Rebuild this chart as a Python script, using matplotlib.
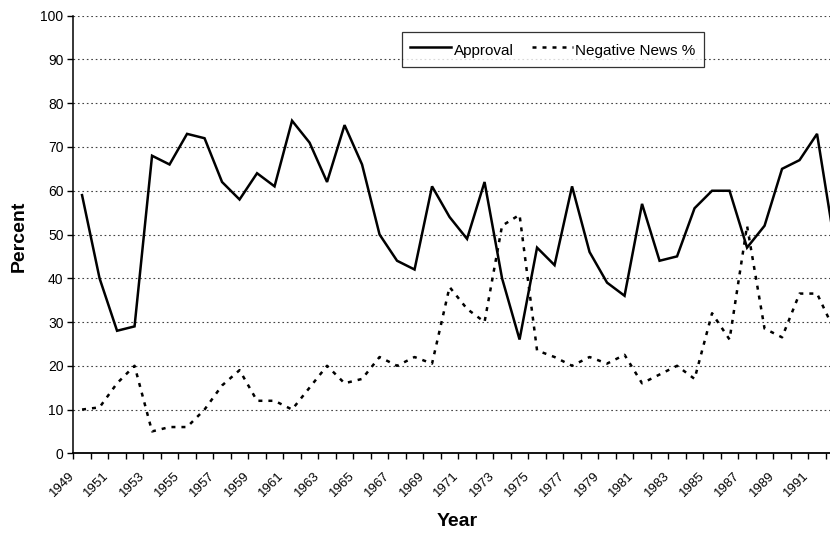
import numpy as np
import matplotlib
matplotlib.use('Agg')
import matplotlib.pyplot as plt
import matplotlib.transforms as mtransforms
from matplotlib.ticker import FixedLocator, NullFormatter

plt.rcParams['font.family'] = ['Liberation Sans', 'DejaVu Sans']

# data, one value per year 1949-1992
years = np.arange(1949, 1993)
approval = [59, 40, 28, 29, 68, 66, 73, 72, 62, 58,
            64, 61, 76, 71, 62, 75, 66, 50, 44, 42,
            61, 54, 49, 62, 40, 26, 47, 43, 61, 46,
            39, 36, 57, 44, 45, 56, 60, 60, 47, 52,
            65, 67, 73, 48]
negative_news = [10, 10.5, 16, 20, 5, 6, 6, 10, 15.5, 19,
                 12, 12, 10, 15, 20, 16, 17, 22, 20, 22,
                 20.5, 38, 33, 30, 52, 54.5, 23.5, 22, 20, 22,
                 20.5, 22.5, 16, 18, 20, 17, 32, 26, 52, 28.5,
                 26.5, 36.5, 36.5, 28]
tick_years = np.arange(1949, 1992, 2)

W, H = 830, 534
fig = plt.figure(figsize=(W / 100, H / 100), dpi=100)
left, bottom, top = 73.3, 453.3, 15.7
ax = fig.add_axes([left / W, 1 - bottom / H, 1 - left / W, (bottom - top) / H])

ax.plot(years, approval, color='black', lw=1.8, label='Approval', solid_joinstyle='miter')
ax.plot(years, negative_news, color='black', lw=1.8, linestyle=(0, (1.6, 2.4)),
        label='Negative News %')

px_per_year = 17.5
ax.set_xlim(1948.5, 1948.5 + (W - left) / px_per_year)
ax.set_ylim(0, 100)
ax.set_yticks(np.arange(0, 101, 10))

ax.yaxis.grid(True, color='#444444', linestyle=(0, (1.5, 2.5)), lw=0.8)
ax.set_axisbelow(True)

ax.spines['top'].set_visible(False)
ax.spines['right'].set_visible(False)
ax.spines['left'].set_linewidth(1.1)
ax.spines['bottom'].set_linewidth(1.3)

ax.xaxis.set_major_locator(FixedLocator(tick_years))
ax.set_xticklabels([str(y) for y in tick_years], rotation=45, ha='right', va='top',
                   rotation_mode='anchor', fontsize=9.5)
ax.xaxis.set_minor_locator(FixedLocator(np.arange(1948.5, 1992.5, 1)))
ax.xaxis.set_minor_formatter(NullFormatter())
ax.tick_params(axis='x', which='major', length=0, pad=11.5)
ax.tick_params(axis='x', which='minor', length=4, width=1, direction='out')
ax.tick_params(axis='y', length=4, width=1, direction='out', labelsize=10, pad=3)

offset = mtransforms.ScaledTranslation(-14 / 100, 0, fig.dpi_scale_trans)
for lab in ax.get_xticklabels():
    lab.set_transform(lab.get_transform() + offset)

fig.text(19 / W, 1 - 236 / H, 'Percent', rotation=90, ha='center', va='center',
         fontsize=14, fontweight='bold')
fig.text(457 / W, 1 - 522 / H, 'Year', ha='center', va='center',
         fontsize=14, fontweight='bold')

leg = ax.legend(loc='upper left', bbox_to_anchor=(401.7 / W, 1 - 32 / H),
                bbox_transform=fig.transFigure, ncol=2, frameon=True, fancybox=False,
                edgecolor='black', fontsize=11, handlelength=2.7, handletextpad=0.15,
                handleheight=1.45, columnspacing=1.2, borderpad=0.55, borderaxespad=0)
leg.get_frame().set_linewidth(0.9)

fig.savefig('out.png', dpi=100)
